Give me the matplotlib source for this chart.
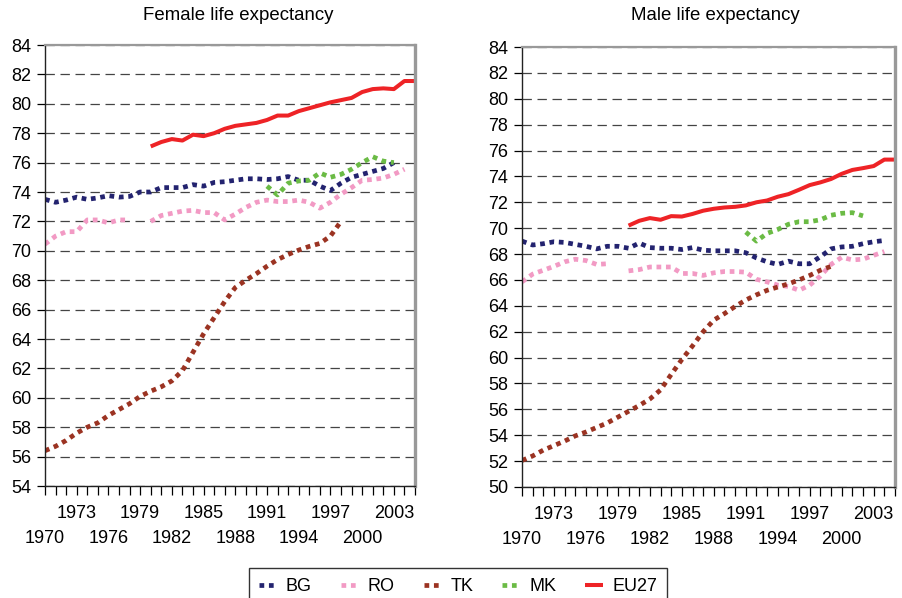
import numpy as np
import matplotlib
matplotlib.use("Agg")
import matplotlib.pyplot as plt

nan = np.nan
years = list(range(1970, 2006))

# Female life expectancy
bg_f = [73.5, 73.3, 73.45, 73.65, 73.5, 73.6, 73.75, 73.65, 73.7, 74.0,
        74.0, 74.3, 74.3, 74.3, 74.5, 74.4, 74.65, 74.7, 74.8, 74.9,
        74.9, 74.85, 74.9, 75.05, 74.8, 74.8, 74.4, 74.1, 74.6, 75.0,
        75.2, 75.4, 75.6, 76.0, nan, nan]
ro_f = [70.45, 71.0, 71.3, 71.3, 72.1, 72.1, 71.9, 72.1, 72.1, nan,
        72.0, 72.4, 72.55, 72.7, 72.75, 72.6, 72.6, 72.1, 72.5, 72.95,
        73.3, 73.45, 73.35, 73.35, 73.45, 73.3, 72.9, 73.3, 73.85, 74.3,
        74.8, 74.85, 74.95, 75.2, 75.55, nan]
tk_f = [56.4, 56.7, 57.1, 57.6, 58.0, 58.3, 58.8, 59.2, 59.6, 60.1,
        60.45, 60.75, 61.15, 61.85, 63.1, 64.35, 65.45, 66.55, 67.5, 68.0,
        68.45, 68.95, 69.4, 69.75, 70.05, 70.3, 70.5, 71.0, 72.0,
        nan, nan, nan, nan, nan, nan, nan]
mk_f = [nan] * 21 + [74.4, 73.8, 74.6, 74.75, 74.8, 75.3, 75.0, 75.2, 75.55,
                     76.0, 76.4, 76.1, 76.0, nan, nan]
eu_f = [nan] * 10 + [77.1, 77.4, 77.6, 77.5, 77.9, 77.8, 78.0, 78.3, 78.5, 78.6,
                     78.7, 78.9, 79.2, 79.2, 79.5, 79.7, 79.9, 80.1, 80.25, 80.4,
                     80.8, 81.0, 81.05, 81.0, 81.55, 81.55]

# Male life expectancy
bg_m = [69.0, 68.7, 68.8, 68.95, 68.9, 68.75, 68.6, 68.4, 68.6, 68.6,
        68.45, 68.85, 68.5, 68.45, 68.45, 68.35, 68.5, 68.3, 68.25, 68.25,
        68.25, 68.1, 67.7, 67.4, 67.2, 67.45, 67.25, 67.25, 67.8, 68.4,
        68.55, 68.6, 68.8, 68.95, 69.05, nan]
ro_m = [65.85, 66.45, 66.75, 67.05, 67.4, 67.6, 67.5, 67.2, 67.25, nan,
        66.7, 66.8, 67.0, 67.0, 67.0, 66.5, 66.5, 66.35, 66.55, 66.65,
        66.65, 66.6, 66.05, 65.85, 65.6, 65.5, 65.2, 65.6, 66.3, 67.2,
        67.75, 67.55, 67.6, 67.9, 68.2, nan]
tk_m = [52.05, 52.4, 52.85, 53.2, 53.55, 53.95, 54.25, 54.6, 54.95, 55.4,
        55.85, 56.3, 56.8, 57.5, 58.7, 59.85, 60.9, 62.0, 62.9, 63.4,
        63.95, 64.45, 64.85, 65.2, 65.45, 65.7, 66.0, 66.35, 66.75, 67.05,
        nan, nan, nan, nan, nan, nan]
mk_m = [nan] * 21 + [69.7, 69.0, 69.6, 69.9, 70.3, 70.5, 70.5, 70.65, 71.0,
                     71.15, 71.2, 70.95, nan, nan, nan]
eu_m = [nan] * 10 + [70.2, 70.57, 70.78, 70.65, 70.93, 70.9, 71.1, 71.35, 71.5, 71.6,
                     71.65, 71.76, 72.0, 72.14, 72.43, 72.63, 72.97, 73.33, 73.54, 73.8,
                     74.2, 74.5, 74.64, 74.8, 75.3, 75.3]

names = ["BG", "RO", "TK", "MK", "EU27"]
colors = ["#23236f", "#f29ac4", "#9b3322", "#6bbb45", "#ee2326"]
upper_years = [1973, 1979, 1985, 1991, 1997, 2003]
lower_years = [1970, 1976, 1982, 1988, 1994, 2000]

plt.rcParams['font.family'] = ['Liberation Sans', 'DejaVu Sans']
plt.rcParams['font.size'] = 13

fig = plt.figure(figsize=(9.02, 5.98), dpi=100)
ax1 = fig.add_axes([45 / 902, 1 - 486 / 598, 370 / 902, 441 / 598])
ax2 = fig.add_axes([522 / 902, 1 - 487 / 598, 373 / 902, 440 / 598])


def draw(ax, series, ylo):
    lines = []
    for vals, name, col in zip(series, names, colors):
        if name == "EU27":
            ln, = ax.plot(years, vals, color=col, lw=2.9, label=name,
                          solid_capstyle='butt')
        else:
            ln, = ax.plot(years, vals, color=col, lw=3.4, label=name,
                          linestyle=(0, (1, 1)), dash_capstyle='butt')
        lines.append(ln)
    ax.set_xlim(1970, 2005)
    ax.set_ylim(ylo, 84)
    ax.set_yticks(range(ylo, 85, 2))
    # tick mark every year, labels staggered on two rows
    ax.xaxis.remove_overlapping_locs = False
    ax.set_xticks(years)
    ax.set_xticklabels([str(y) if y in upper_years else "" for y in years])
    ax.set_xticks(lower_years, minor=True)
    ax.set_xticklabels([str(y) for y in lower_years], minor=True)
    ax.yaxis.grid(True, linestyle=(0, (7.5, 4.5)), color='#444444', lw=0.9)
    ax.set_axisbelow(True)
    ax.tick_params(axis='y', direction='out', length=6, width=0.9, pad=4, colors='black')
    ax.tick_params(axis='x', which='major', direction='out', length=6.5, width=0.9,
                   pad=7, colors='black')
    ax.tick_params(axis='x', which='minor', length=0, pad=31.5, colors='black')
    for s in ['left', 'bottom']:
        ax.spines[s].set_color('#222222')
        ax.spines[s].set_linewidth(1.0)
    ax.spines['top'].set_color('#999999')
    ax.spines['top'].set_linewidth(1.6)
    ax.spines['right'].set_color('#999999')
    ax.spines['right'].set_linewidth(2.4)
    return lines


lines = draw(ax1, [bg_f, ro_f, tk_f, mk_f, eu_f], 54)
draw(ax2, [bg_m, ro_m, tk_m, mk_m, eu_m], 50)

fig.text(238 / 902, 1 - 16 / 598, "Female life expectancy", ha='center', va='center', fontsize=13.4)
fig.text(715 / 902, 1 - 16 / 598, "Male life expectancy", ha='center', va='center', fontsize=13.4)

leg = fig.legend(lines, names, loc='upper center', bbox_to_anchor=(458 / 902, 1 - 568 / 598),
                 ncol=5, fancybox=False, edgecolor='#333333', framealpha=1,
                 handlelength=1.0, columnspacing=1.6, handletextpad=0.5,
                 borderaxespad=0, borderpad=0.55)
leg.get_frame().set_linewidth(1.0)

plt.savefig("out.png", dpi=100)
